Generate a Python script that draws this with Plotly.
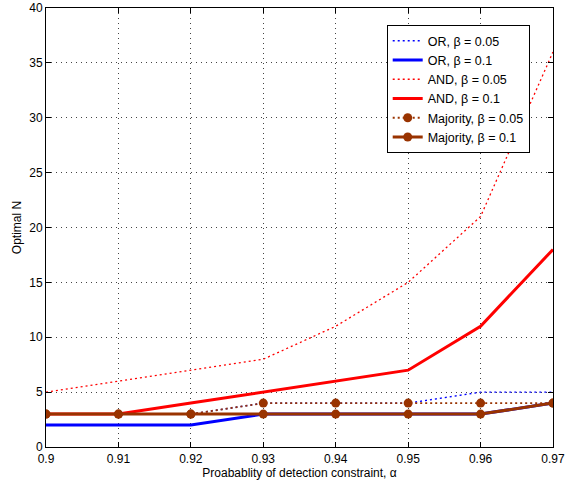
import plotly.graph_objects as go

alpha = [0.90, 0.91, 0.92, 0.93, 0.94, 0.95, 0.96, 0.97]
or_005 = [3, 3, 3, 4, 4, 4, 5, 5]
or_01 = [2, 2, 2, 3, 3, 3, 3, 4]
and_005 = [5, 6, 7, 8, 11, 15, 21, 36]
and_01 = [3, 3, 4, 5, 6, 7, 11, 18]
maj_005 = [3, 3, 3, 4, 4, 4, 4, 4]
maj_01 = [3, 3, 3, 3, 3, 3, 3, 4]

x_ticks = [0.90, 0.91, 0.92, 0.93, 0.94, 0.95, 0.96, 0.97]
x_labels = ["0.9", "0.91", "0.92", "0.93", "0.94", "0.95", "0.96", "0.97"]
y_ticks = [0, 5, 10, 15, 20, 25, 30, 35, 40]

BLUE = "#0000ff"
RED = "#ff0000"
BROWN = "#993300"
FONT = "Liberation Sans, Arial, sans-serif"
DOT = "2px,3px"

fig = go.Figure()
fig.add_trace(go.Scatter(x=alpha, y=or_005, mode="lines", name="OR, β = 0.05",
                         line=dict(color=BLUE, width=1.3, dash=DOT)))
fig.add_trace(go.Scatter(x=alpha, y=or_01, mode="lines", name="OR, β = 0.1",
                         line=dict(color=BLUE, width=3)))
fig.add_trace(go.Scatter(x=alpha, y=and_005, mode="lines", name="AND, β = 0.05",
                         line=dict(color=RED, width=1.3, dash=DOT)))
fig.add_trace(go.Scatter(x=alpha, y=and_01, mode="lines", name="AND, β = 0.1",
                         line=dict(color=RED, width=3)))
fig.add_trace(go.Scatter(x=alpha, y=maj_005, mode="lines+markers", name="Majority, β = 0.05",
                         line=dict(color=BROWN, width=1.8, dash=DOT),
                         marker=dict(color=BROWN, size=9)))
fig.add_trace(go.Scatter(x=alpha, y=maj_01, mode="lines+markers", name="Majority, β = 0.1",
                         line=dict(color=BROWN, width=3),
                         marker=dict(color=BROWN, size=9)))

axis_common = dict(
    showline=True, linecolor="black", linewidth=1, mirror="ticks",
    ticks="inside", ticklen=5, tickcolor="black",
    showgrid=True, gridcolor="#444444", griddash="1px,4px", gridwidth=1,
    zeroline=False, automargin=False,
    tickfont=dict(family=FONT, size=12, color="black"),
)

fig.update_xaxes(range=[0.90, 0.97], tickvals=x_ticks, ticktext=x_labels,
                 ticklabelstandoff=1,
                 title=dict(text="Proabablity of detection constraint, α",
                            font=dict(family=FONT, size=12, color="black"),
                            standoff=0),
                 **axis_common)
fig.update_yaxes(range=[0, 40], tickvals=y_ticks,
                 title=dict(text="Optimal N",
                            font=dict(family=FONT, size=12, color="black"),
                            standoff=5),
                 **axis_common)

fig.update_layout(
    width=584, height=483,
    margin=dict(l=46, r=31, t=8, b=36),
    paper_bgcolor="white", plot_bgcolor="white",
    font=dict(family=FONT, size=12, color="black"),
    showlegend=True,
    legend=dict(x=0.672, y=0.961, xanchor="left", yanchor="top",
                bgcolor="white", bordercolor="black", borderwidth=1,
                font=dict(size=12.5), tracegroupgap=0, itemwidth=30),
)

fig.write_html("out.html")
